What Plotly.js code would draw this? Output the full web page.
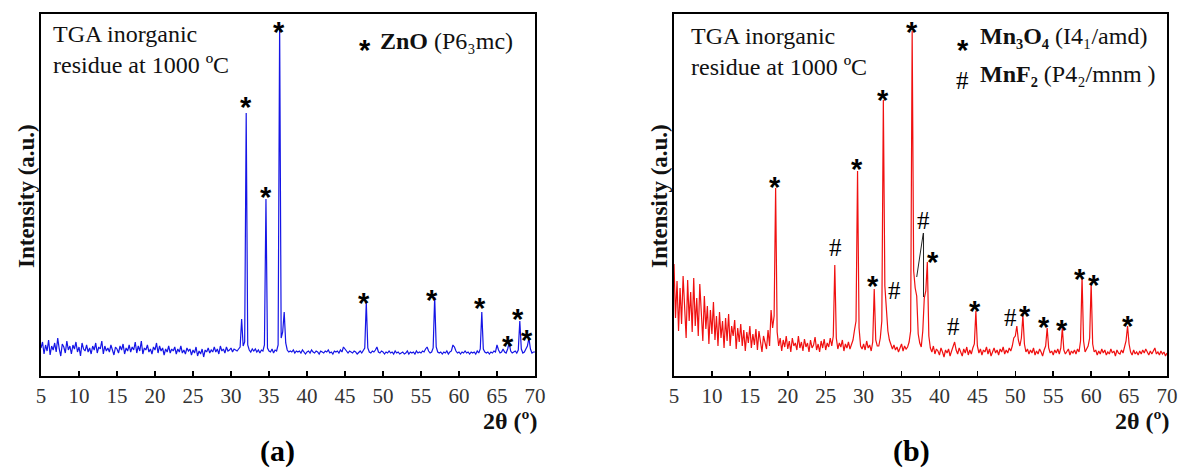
<!DOCTYPE html>
<html><head><meta charset="utf-8">
<script src="https://cdn.plot.ly/plotly-3.0.1.min.js"></script>
<style>html,body{margin:0;padding:0;background:#fff}#chart{width:1180px;height:470px}</style>
</head><body><div id="chart"></div>
<script>
// ---- data (2θ scan: start 5°, step 0.2°) ----
const scanStart = 5, scanStep = 0.2;
const xTicks = [5,10,15,20,25,30,35,40,45,50,55,60,65,70];

const intensityZnO = [
28,34,22,31,25, 36,21,30,26,33, 24,38,27,20,32, 29,23,35,26,30, 22,31,27,34,24,
29,20,33,27,25, 31,24,28,22,30, 26,33,23,29,27, 35,22,30,25,28, 24,31,26,21,29,
27,23,30,26,32, 22,28,25,31,24, 29,26,34,23,30, 25,35,22,28,26, 31,24,27,22,29,
26,33,23,30,25, 28,21,27,24,30, 23,27,25,29,22, 27,24,30,23,26, 22,28,25,27,21,
26,23,29,20,25, 22,27,19,26,24, 28,23,26,24,29, 24,27,22,30,25, 27,23,29,25,26,
28,24,27,26,25, 27,29,57,30,34, 263,31,26,24,27, 25,27,24,26,23, 26,25,31,177,28,
25,24,27,23,26, 25,31,352,38,44, 64,33,26,24,25, 24,26,23,25,24, 25,23,26,24,22,
24,25,23,26,24, 23,25,24,22,25, 24,23,25,24,26, 23,24,22,25,24, 25,23,26,24,29,
27,24,23,25,24, 23,25,24,22,24, 25,23,26,28,74, 28,24,23,25,24, 26,29,24,23,25,
24,22,24,23,25, 23,24,22,25,23, 24,22,23,24,22, 23,25,22,24,23, 24,22,25,23,24,
23,25,24,27,29, 25,23,24,28,79, 29,24,23,24,22, 24,23,25,22,24, 25,31,29,25,23,
24,22,24,23,25, 23,24,22,24,23, 24,22,25,23,27, 64,27,24,23,24, 22,24,23,25,24,
31,26,23,24,27, 24,23,27,33,25, 23,24,25,23,26, 55,27,23,24,27, 30,38,27,23,24,
24];

const intensityMn = [
112,58,95,45,88, 52,100,62,38,96, 55,84,44,98,50, 78,40,92,56,35, 80,47,70,32,66,
42,74,36,60,30, 64,38,55,28,58, 35,62,30,50,40, 56,27,48,34,52, 30,46,25,44,33,
50,28,42,31,47, 26,45,33,24,40, 34,27,46,30,66, 48,60,188,44,30, 38,25,36,29,40,
27,35,24,38,30, 33,26,40,28,34, 25,37,29,33,24, 36,28,31,39,26, 32,24,35,28,37,
26,33,29,38,30, 40,111,38,27,33, 29,36,25,32,28, 34,27,31,36,46, 55,205,48,30,27,
32,26,35,28,31, 25,34,87,36,30, 30,38,55,276,90, 65,45,36,30,27, 31,26,29,24,28,
32,25,30,27,29, 34,45,345,105,88, 80,42,33,29,45, 78,85,114,40,28, 24,30,22,27,25,
21,28,24,19,26, 23,27,20,25,30, 34,26,22,28,24, 20,27,23,29,21, 26,22,28,32,65,
30,23,27,21,26, 24,29,22,27,20, 25,28,23,26,21, 27,24,29,22,26, 23,28,25,30,38,
40,50,36,30,38, 61,32,24,27,22, 26,23,28,21,25, 22,27,24,20,26, 30,48,28,23,25,
21,26,23,27,22, 28,48,26,22,24, 27,21,25,23,26, 22,27,24,35,99, 35,24,28,30,38,
93,32,24,26,21, 25,22,27,23,26, 21,24,22,27,23, 25,20,26,23,22, 26,23,28,35,50,
32,24,21,26,22, 24,21,25,22,26, 23,27,24,21,25, 22,25,28,22,24, 21,25,22,24,20,
23];

// peak labels (2θ, intensity position of the label, symbol)
const markA_x = [31.97, 34.57, 36.3, 47.54, 56.49, 62.76, 66.4, 67.72, 68.99];
const markA_y = [278, 188, 353, 82, 85, 77, 39, 66, 45];
const markB_x = [18.32, 26.23, 29.09, 31.28, 32.6, 34.1, 36.34, 37.87, 39.19, 41.9, 44.68, 49.39, 51.28, 53.82, 56.19, 58.53, 60.42, 64.89];
const markB_y = [198, 129, 216, 99, 285, 86, 353, 156, 123, 50, 74, 59, 69, 58, 55, 106, 100, 59];
const markB_sym = ['*','#','*','*','*','#','*','#','*','#','*','#','*','*','*','*','*','*'];

// ---- layout helpers ----
const W = 1180, H = 470;
const px = v => v / W, py = v => 1 - v / H;
const SERIF = 'Liberation Serif, Times New Roman, serif';
const SANS = 'Liberation Sans, Arial, sans-serif';
const TXT = 24;

const traces = [
  {type:'scatter', mode:'lines', x0:scanStart, dx:scanStep, y:intensityZnO,
   line:{color:'#1515e6', width:1.2}, xaxis:'x', yaxis:'y', hoverinfo:'skip'},
  {type:'scatter', mode:'lines', x0:scanStart, dx:scanStep, y:intensityMn,
   line:{color:'#f01010', width:1.2}, xaxis:'x2', yaxis:'y2', hoverinfo:'skip'}
];

function xax(dom){
  return {domain:dom, range:[5,70], tickvals:xTicks, ticks:'inside', ticklen:5, tickwidth:1.5,
    tickcolor:'#000', showline:true, mirror:true, linecolor:'#000', linewidth:2,
    showgrid:false, zeroline:false, tickfont:{family:SERIF, size:21, color:'#333'}, fixedrange:true};
}
function yax(anchor){
  return {domain:[py(376), py(14)], range:[0,362], showticklabels:false, ticks:'',
    showline:true, mirror:true, linecolor:'#000', linewidth:2, showgrid:false, zeroline:false,
    anchor:anchor, fixedrange:true};
}

const ann = [];
function symAnn(x, y, s, xr, yr){
  const star = s === '*';
  ann.push({x:x, y:y, xref:xr, yref:yr, text: star ? '<b>*</b>' : '#', showarrow:false,
    xanchor:'center', yanchor:'middle', yshift: star ? -9 : 0,
    font:{family: star ? SANS : SERIF, size: star ? 29 : 25, color:'#000'}});
}
markA_x.forEach((x,i)=>symAnn(x, markA_y[i], '*', 'x', 'y'));
markB_x.forEach((x,i)=>symAnn(x, markB_y[i], markB_sym[i], 'x2', 'y2'));

function paperText(x, y, text, opt){
  ann.push(Object.assign({x:px(x), y:py(y), xref:'paper', yref:'paper', text:text, showarrow:false,
    xanchor:'left', yanchor:'top', align:'left', font:{family:SERIF, size:TXT, color:'#111'}}, opt||{}));
}
// top-left notes
paperText(51, 19, 'TGA inorganic<br>residue at 1000 ºC');
paperText(689, 21, 'TGA inorganic<br>residue at 1000 ºC');
// legends
paperText(364.5, 41, '<b>*</b>', {xanchor:'center', yanchor:'middle', yshift:-9, font:{family:SANS, size:29, color:'#000'}});
paperText(378, 26, '<b>ZnO</b> (P6₃mc)');
paperText(963, 41, '<b>*</b>', {xanchor:'center', yanchor:'middle', yshift:-9, font:{family:SANS, size:29, color:'#000'}});
paperText(978, 21, '<b>Mn₃O₄</b> (I4₁/amd)');
paperText(962, 81, '#', {xanchor:'center', yanchor:'middle', font:{family:SERIF, size:25, color:'#000'}});
paperText(978, 59, '<b>MnF₂</b> (P4₂/mnm )');
// axis titles
paperText(27, 196, '<b>Intensity (a.u.)</b>', {xanchor:'center', yanchor:'middle', textangle:-90, font:{family:SERIF, size:23, color:'#111'}});
paperText(660, 196, '<b>Intensity (a.u.)</b>', {xanchor:'center', yanchor:'middle', textangle:-90, font:{family:SERIF, size:23, color:'#111'}});
paperText(539, 421, '<b>2θ (º)</b>', {xanchor:'right', yanchor:'middle', font:{family:SERIF, size:24, color:'#111'}});
paperText(1171, 421, '<b>2θ (º)</b>', {xanchor:'right', yanchor:'middle', font:{family:SERIF, size:24, color:'#111'}});
// panel labels
paperText(277, 451, '<b>(a)</b>', {xanchor:'center', yanchor:'middle', font:{family:SERIF, size:30, color:'#000'}});
paperText(911, 451, '<b>(b)</b>', {xanchor:'center', yanchor:'middle', font:{family:SERIF, size:30, color:'#000'}});

const shapes = [
  {type:'line', xref:'x2', yref:'y2', x0:37.87, y0:143, x1:37.0, y1:99, line:{color:'#222', width:1}},
  {type:'line', xref:'x2', yref:'y2', x0:37.9, y0:143, x1:37.9, y1:79, line:{color:'#222', width:1}}
];

const layout = {
  width:W, height:H, margin:{l:0, r:0, t:0, b:0}, showlegend:false,
  paper_bgcolor:'#fff', plot_bgcolor:'#fff',
  xaxis: Object.assign(xax([px(41), px(535)]), {anchor:'y'}),
  yaxis: yax('x'),
  xaxis2: Object.assign(xax([px(674), px(1167)]), {anchor:'y2'}),
  yaxis2: yax('x2'),
  annotations: ann, shapes: shapes
};
Plotly.newPlot('chart', traces, layout, {staticPlot:true, displayModeBar:false});
</script></body></html>
